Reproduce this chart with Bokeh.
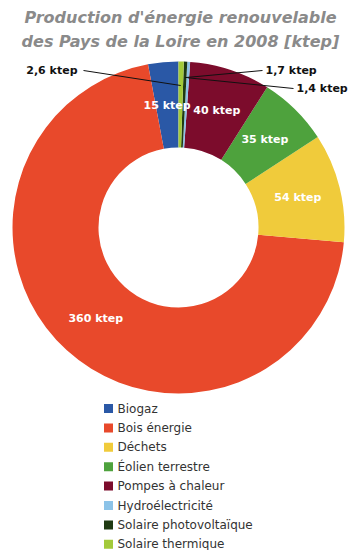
import numpy as np
from bokeh.plotting import figure
from bokeh.models import Range1d, ColumnDataSource
from bokeh.core.properties import value
from bokeh.embed import file_html
from bokeh.resources import INLINE

# ---- data ----
categories = ["Biogaz", "Bois énergie", "Déchets", "Éolien terrestre",
              "Pompes à chaleur", "Hydroélectricité", "Solaire photovoltaïque",
              "Solaire thermique"]
values = [15, 360, 54, 35, 40, 1.4, 1.7, 2.6]
colors = ["#2a58a6", "#e8492b", "#f0cb3b", "#4ea23d", "#7c0c2c", "#8cc3e8",
          "#1f3a12", "#a3ca3a"]
inside_labels = ["15 ktep", "360 ktep", "54 ktep", "35 ktep", "40 ktep", "", "", ""]
outside_labels = ["", "", "", "", "", "1,4 ktep", "1,7 ktep", "2,6 ktep"]
title_lines = ["Production d'énergie renouvelable",
               "des Pays de la Loire en 2008 [ktep]"]

FONT = value("DejaVu Sans")

# ---- geometry ----
R_IN, R_OUT = 80, 166
vals = np.array(values, dtype=float)
total = vals.sum()
cum = np.concatenate([[0], np.cumsum(vals)[:-1]])
start = np.pi / 2 + 2 * np.pi * cum / total
end = start + 2 * np.pi * vals / total
mid = (start + end) / 2

p = figure(width=349, height=550, output_backend="svg", toolbar_location=None,
           x_range=Range1d(-178, 171), y_range=Range1d(-323, 227),
           min_border=0)
p.axis.visible = False
p.grid.visible = False
p.outline_line_color = None
p.background_fill_color = "white"

src = ColumnDataSource(dict(start=start, end=end, color=colors, cat=categories))
p.annular_wedge(x=0, y=0, inner_radius=R_IN, outer_radius=R_OUT,
                start_angle="start", end_angle="end", direction="anticlock",
                fill_color="color", line_color=None, source=src)

# inside labels
r_lab = (R_IN + R_OUT) / 2
ins = [i for i, t in enumerate(inside_labels) if t]
p.text(x=[r_lab * np.cos(mid[i]) for i in ins],
       y=[r_lab * np.sin(mid[i]) for i in ins],
       text=[inside_labels[i] for i in ins],
       text_color="white", text_font=FONT,
       text_font_style="bold", text_font_size="11px",
       text_align="center", text_baseline="middle")

# outside labels with leader lines
label_pos = {5: (118, 139, "left"), 6: (87, 157, "left"), 7: (-101, 157, "right")}
line_end = {5: (115, 139), 6: (84, 157), 7: (-95, 157)}
r_leader = {5: 150, 6: 150, 7: 142}
xs, ys = [], []
for i, (lx, ly, al) in label_pos.items():
    sx, sy = r_leader[i] * np.cos(mid[i]), r_leader[i] * np.sin(mid[i])
    ex, ey = line_end[i]
    xs.append([sx, ex]); ys.append([sy, ey])
    p.text(x=[lx], y=[ly], text=[outside_labels[i]], text_color="#111111",
           text_font=FONT, text_font_style="bold",
           text_font_size="11px", text_align=al, text_baseline="middle")
p.multi_line(xs=xs, ys=ys, line_color="#111111", line_width=1)

# title
p.text(x=[2, 2], y=[210, 186], text=title_lines, text_color="#8a8a8a",
       text_font=FONT, text_font_style="bold italic",
       text_font_size="16px", text_align="center", text_baseline="middle")

# legend
n = len(categories)
ly = [-181 - 19.4 * i for i in range(n)]
p.rect(x=[-70] * n, y=ly, width=9, height=9, fill_color=colors, line_color=None)
p.text(x=[-61] * n, y=ly, text=categories, text_color="#333333",
       text_font=FONT, text_font_size="12px",
       text_align="left", text_baseline="middle")

open("out.html", "w").write(file_html(p, INLINE))
